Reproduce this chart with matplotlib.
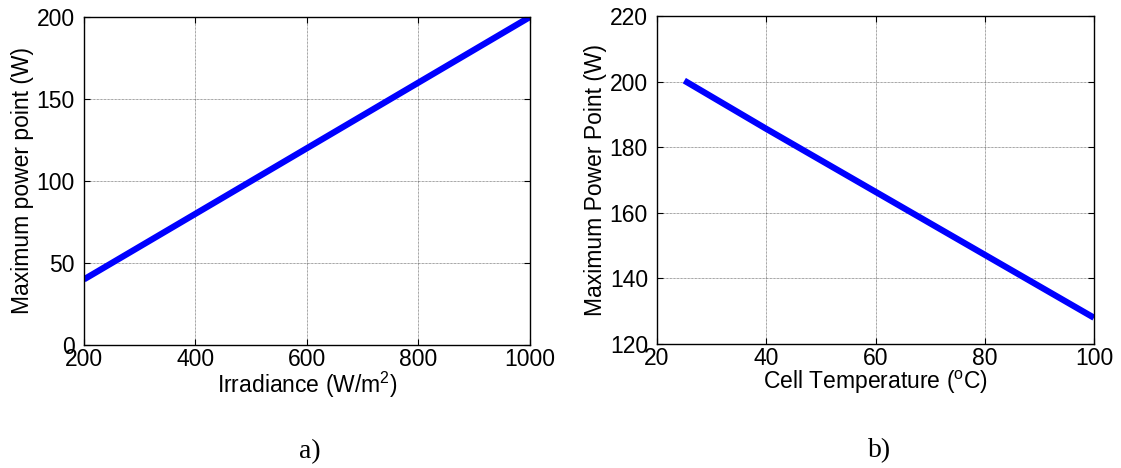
import matplotlib
matplotlib.use('Agg')
import matplotlib.pyplot as plt

# data
irradiance = [200, 400, 600, 800, 1000]
mpp_irr = [40, 80, 120, 160, 200]

cell_temp = [25, 40, 60, 80, 100]
mpp_temp = [200.3, 185.6, 166.4, 147.2, 128.0]

irr_ticks = [200, 400, 600, 800, 1000]
irr_yticks = [0, 50, 100, 150, 200]
temp_ticks = [20, 40, 60, 80, 100]
temp_yticks = [120, 140, 160, 180, 200, 220]

plt.rcParams['font.family'] = ['Liberation Sans', 'DejaVu Sans']
plt.rcParams['mathtext.default'] = 'regular'
plt.rcParams['font.size'] = 16

fig = plt.figure(figsize=(11.21, 4.68), dpi=100)
ax1 = fig.add_axes([0.0749, 0.2628, 0.3979, 0.7010])
ax2 = fig.add_axes([0.5861, 0.2650, 0.3898, 0.7008])


def matlab_style(ax):
    """MATLAB-like look: inward ticks on all sides, dotted grid"""
    ax.tick_params(direction='in', length=4, width=0.8, top=True, right=True,
                   labelsize=16.5, color='k')
    ax.tick_params(axis='y', pad=6.5)
    ax.tick_params(axis='x', pad=2.5)
    for s in ax.spines.values():
        s.set_linewidth(1.0)
        s.set_color('k')
    ax.grid(True, color='k', linestyle=(0, (1, 1)), linewidth=0.5, alpha=0.7)
    ax.set_axisbelow(True)


ax1.plot(irradiance, mpp_irr, color='#0000ff', linewidth=4.5, solid_capstyle='butt')
ax1.set_xlim(200, 1000)
ax1.set_ylim(0, 200)
ax1.set_xticks(irr_ticks)
ax1.set_yticks(irr_yticks)
matlab_style(ax1)
ax1.set_xlabel('Irradiance (W/m$^2$)', fontsize=16.5, labelpad=-1)
ax1.set_ylabel('Maximum power point (W)', fontsize=16.5, labelpad=2)

ax2.plot(cell_temp, mpp_temp, color='#0000ff', linewidth=4.5, solid_capstyle='butt')
ax2.set_xlim(20, 100)
ax2.set_ylim(120, 220)
ax2.set_xticks(temp_ticks)
ax2.set_yticks(temp_yticks)
matlab_style(ax2)
ax2.set_xlabel('Cell Temperature ($^{o}$C)', fontsize=16.5, labelpad=-1)
ax2.set_ylabel('Maximum Power Point (W)', fontsize=16.5, labelpad=2)

fig.text(0.2765, 0.034, 'a)', ha='center', va='center', fontsize=20,
         family=['Liberation Serif', 'DejaVu Serif'])
fig.text(0.785, 0.037, 'b)', ha='center', va='center', fontsize=20,
         family=['Liberation Serif', 'DejaVu Serif'])

fig.savefig('out.png', dpi=100)
